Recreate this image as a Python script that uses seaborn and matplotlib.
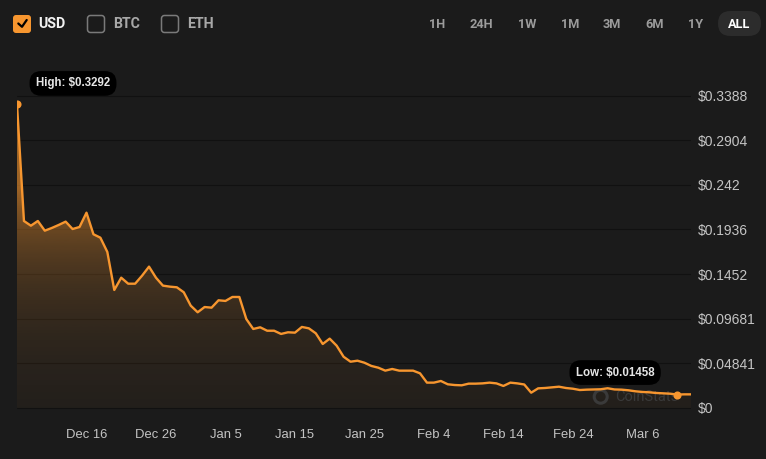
import numpy as np
import pandas as pd
import matplotlib
matplotlib.use("Agg")
import matplotlib.pyplot as plt
import matplotlib.dates as mdates
import seaborn as sns
from matplotlib.patches import FancyBboxPatch, Circle
from matplotlib.colors import to_rgb
from matplotlib.transforms import IdentityTransform

# ---------------- data ----------------
start_date = "2024-12-06"
end_date = "2025-03-13"
prices = [
    0.3292, 0.2028, 0.1977, 0.2028, 0.1923, 0.1952, 0.1985, 0.2021, 0.1941, 0.1963,
    0.2118, 0.1884, 0.1847, 0.1692, 0.1280, 0.1413, 0.1348, 0.1348, 0.1435, 0.1533,
    0.1413, 0.1327, 0.1316, 0.1309, 0.1255, 0.1110, 0.1038, 0.1095, 0.1088, 0.1168,
    0.1161, 0.1204, 0.1204, 0.0965, 0.0857, 0.0875, 0.0838, 0.0838, 0.0803, 0.0821,
    0.0817, 0.0879, 0.0864, 0.0810, 0.0694, 0.0752, 0.0676, 0.0556, 0.0502, 0.0513,
    0.0491, 0.0456, 0.0437, 0.0405, 0.0423, 0.0405, 0.0405, 0.0405, 0.0376, 0.0275,
    0.0275, 0.0293, 0.0257, 0.0249, 0.0246, 0.0264, 0.0264, 0.0267, 0.0275, 0.0267,
    0.0239, 0.0275, 0.0267, 0.0255, 0.0166, 0.0213, 0.0217, 0.0224, 0.0231, 0.0217,
    0.0209, 0.0195, 0.0199, 0.0201, 0.0203, 0.0214, 0.0201, 0.0199, 0.0192, 0.0181,
    0.0174, 0.0170, 0.0163, 0.0159, 0.0155, 0.01458, 0.0148, 0.0148,
]
x_tick_dates = ["2024-12-16", "2024-12-26", "2025-01-05", "2025-01-15", "2025-01-25",
                "2025-02-04", "2025-02-14", "2025-02-24", "2025-03-06"]
x_tick_labels = ["Dec 16", "Dec 26", "Jan 5", "Jan 15", "Jan 25",
                 "Feb 4", "Feb 14", "Feb 24", "Mar 6"]
y_ticks = [0, 0.04841, 0.09681, 0.1452, 0.1936, 0.242, 0.2904, 0.3388]
y_tick_labels = ["$0", "$0.04841", "$0.09681", "$0.1452", "$0.1936", "$0.242",
                 "$0.2904", "$0.3388"]
high_text = "High: $0.3292"
low_text = "Low: $0.01458"
currencies = ["USD", "BTC", "ETH"]
ranges = ["1H", "24H", "1W", "1M", "3M", "6M", "1Y", "ALL"]
watermark = "CoinStats"

# ---------------- style ----------------
BG = "#1b1b1b"
ORANGE = "#f7962f"
GRID = "#111111"
TICK = "#c4c4c4"

sns.set_theme(style="dark")
plt.rcParams["font.family"] = ["Liberation Sans", "DejaVu Sans"]

W, H = 766, 459
fig = plt.figure(figsize=(W / 100, H / 100), dpi=100, facecolor=BG)
ax = fig.add_axes([17 / W, 41 / H, 674 / W, 338 / H])
ax.set_facecolor(BG)

dates = pd.date_range(start_date, periods=len(prices), freq="D")
df = pd.DataFrame({"date": dates, "price": prices})

sns.lineplot(data=df, x="date", y="price", ax=ax, color=ORANGE, lw=1.7, zorder=4)

# gradient fill under the line
x0n = mdates.date2num(dates[0])
x1n = mdates.date2num(dates[-1])
ymax = max(prices)
vals = np.linspace(ymax, 0, 400)
alpha = np.clip(0.40 * np.exp((922 * vals - 187) / 80), 0, 0.6)
img = np.zeros((400, 1, 4))
img[..., :3] = to_rgb(ORANGE)
img[..., 3] = alpha[:, None]
poly = ax.fill_between(dates, prices, 0, facecolor="none", edgecolor="none")
im = ax.imshow(img, extent=[x0n, x1n, 0, ymax], aspect="auto", origin="upper",
               zorder=1, interpolation="bilinear")
im.set_clip_path(poly.get_paths()[0], transform=ax.transData)

# high / low markers
hi = int(np.argmax(prices))
lo = int(np.argmin(prices))
ax.scatter([dates[hi], dates[lo]], [prices[hi], prices[lo]], s=34, color=ORANGE,
           zorder=5, linewidths=0)
box = dict(boxstyle="round,pad=0.55,rounding_size=1.0", fc="black", ec="none")
ax.annotate(high_text, xy=(dates[hi], prices[hi]), xytext=(56, 21),
            textcoords="offset pixels", ha="center", va="center", fontsize=8.3,
            fontweight="bold", color="#e6e6e6", bbox=box, zorder=6)
ax.annotate(low_text, xy=(dates[lo], prices[lo]), xytext=(-62, 22),
            textcoords="offset pixels", ha="center", va="center", fontsize=8.3,
            fontweight="bold", color="#e6e6e6", bbox=box, zorder=6)

# axes / ticks
ax.set_xlim(x0n, mdates.date2num(pd.Timestamp(end_date)))
ax.set_ylim(-0.01085, 0.3557)
ax.set_yticks(y_ticks)
ax.set_yticklabels(y_tick_labels)
ax.set_xticks(pd.to_datetime(x_tick_dates))
ax.set_xticklabels(x_tick_labels)
ax.yaxis.tick_right()
ax.tick_params(axis="y", length=0, pad=5, labelsize=10, labelcolor=TICK)
ax.tick_params(axis="x", length=0, pad=8, labelsize=9.4, labelcolor=TICK)
ax.set_xlabel("")
ax.set_ylabel("")
ax.grid(axis="y", color=GRID, lw=0.8)
ax.grid(axis="x", visible=False)
for s in ax.spines.values():
    s.set_visible(False)

# watermark
ax.add_patch(Circle((600.7, H - 396.7), 6.5, transform=IdentityTransform(),
                    fill=False, ec="#3a3a3a", lw=2.2, zorder=2))
ax.text(615, H - 396.7, watermark, transform=IdentityTransform(), ha="left",
        va="center", fontsize=10.5, color="#3a3a3a", zorder=2,
        family=["Roboto", "DejaVu Sans"])

# ---------------- top controls ----------------
ui = fig.add_axes([0, 0, 1, 1])
ui.set_xlim(0, W)
ui.set_ylim(H, 0)
ui.axis("off")
ui.patch.set_alpha(0)

box_x = [13, 87, 161]
text_x = [38, 113, 187]
for i, (cur, bx, tx) in enumerate(zip(currencies, box_x, text_x)):
    if i == 0:
        ui.add_patch(FancyBboxPatch((bx, 15), 18, 18,
                                    boxstyle="round,pad=0,rounding_size=3",
                                    fc=ORANGE, ec="none"))
        ui.plot([bx + 5.3, bx + 9, bx + 13.7], [23.5, 26.8, 20.0], color="black",
                lw=1.6, solid_capstyle="round", solid_joinstyle="round")
        col = "#f2f2f2"
    else:
        ui.add_patch(FancyBboxPatch((bx + 0.5, 15.5), 17, 17,
                                    boxstyle="round,pad=0,rounding_size=3",
                                    fc="none", ec="#7a7a7a", lw=1.1))
        col = "#a8a8a8"
    ui.text(tx, 24, cur, ha="left", va="center", fontsize=10.2, fontweight="bold",
            color=col, family=["Roboto", "DejaVu Sans"])

range_x = [437, 481, 527, 570, 612, 655, 695.5, 739.5]
ui.add_patch(FancyBboxPatch((718, 11), 43, 25,
                            boxstyle="round,pad=0,rounding_size=12.5",
                            fc="#2c2c2c", ec="none"))
for r, rx in zip(ranges, range_x):
    ui.text(rx, 24, r, ha="center", va="center", fontsize=9.2, fontweight="bold",
            color="#ffffff" if r == "ALL" else "#9c9c9c",
            family=["Roboto", "DejaVu Sans"])

fig.savefig("out.png", dpi=100, facecolor=BG)
